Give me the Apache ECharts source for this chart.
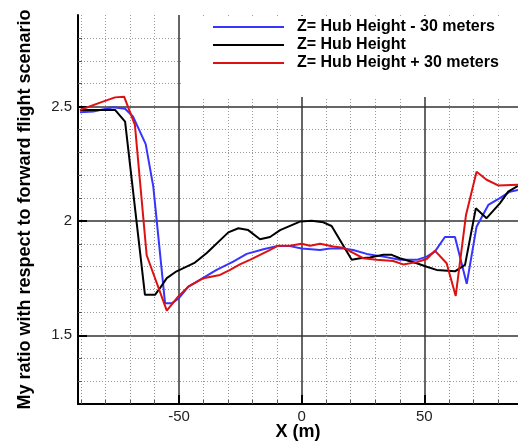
<!DOCTYPE html>
<html>
<head>
<meta charset="utf-8">
<script src="https://cdn.jsdelivr.net/npm/echarts@6/dist/echarts.min.js"></script>
<style>
  html, body { margin: 0; padding: 0; background: #fff; }
  #chart { width: 518px; height: 443px; }
</style>
</head>
<body>
<div id="chart"></div>
<script>
// Z = hub height - 30 m
const xBlue = [-90.4, -85, -76.8, -72, -68.7, -63.6, -60.5, -55.7, -53, -50.3, -46.2, -41.5, -34.7, -27.9, -22.4, -15.6, -10.2, -4.8, 0, 7.5, 11.5, 17, 21, 26.5, 33.3, 40, 46.9, 51, 54.3, 58.4, 62.5, 67.3, 71.3, 76.1, 80.8, 84.9, 88.2];
const yBlue = [2.475, 2.478, 2.497, 2.49, 2.455, 2.336, 2.15, 1.64, 1.64, 1.66, 1.713, 1.742, 1.786, 1.822, 1.856, 1.876, 1.89, 1.89, 1.88, 1.873, 1.88, 1.88, 1.873, 1.856, 1.844, 1.83, 1.83, 1.844, 1.866, 1.93, 1.93, 1.725, 1.975, 2.07, 2.10, 2.128, 2.135];

// Z = hub height
const xBlack = [-90.4, -76.1, -72, -63.9, -59.8, -57.8, -55, -51, -43.5, -38.7, -29.9, -25.8, -21.8, -17, -12.9, -8.8, -0.7, 4.1, 8.8, 12.2, 20.4, 23.8, 27.8, 33.3, 36.7, 40, 46.9, 51, 55, 62.5, 66.6, 71, 75.4, 80.8, 84.2, 88.2];
const yBlack = [2.485, 2.485, 2.434, 1.677, 1.677, 1.706, 1.75, 1.78, 1.818, 1.86, 1.95, 1.968, 1.96, 1.92, 1.93, 1.96, 1.997, 2.001, 1.994, 1.978, 1.83, 1.837, 1.84, 1.852, 1.852, 1.837, 1.815, 1.80, 1.786, 1.78, 1.808, 2.055, 2.012, 2.077, 2.128, 2.153];

// Z = hub height + 30 m
const xRed = [-90.4, -82.2, -76.1, -72.4, -68, -63.2, -55, -50.3, -46.2, -40.1, -33.3, -29.2, -25.2, -21.1, -14.3, -9.5, -4.8, 0, 3.4, 7.5, 12.9, 17, 21, 25.1, 30.6, 37.3, 41.4, 46.9, 51, 54.3, 59.1, 62.8, 67, 71.3, 75.4, 80.1, 88.2];
const yRed = [2.485, 2.517, 2.54, 2.543, 2.42, 1.85, 1.608, 1.67, 1.713, 1.75, 1.764, 1.786, 1.81, 1.83, 1.866, 1.892, 1.892, 1.9, 1.892, 1.9, 1.888, 1.883, 1.86, 1.837, 1.83, 1.825, 1.81, 1.82, 1.834, 1.87, 1.815, 1.672, 2.026, 2.215, 2.18, 2.155, 2.158];

const names = ['Z= Hub Height - 30 meters', 'Z= Hub Height', 'Z= Hub Height + 30 meters'];
const xTicks = [-50, 0, 50];
const yTicks = [1.5, 2, 2.5];

function zip(xs, ys) {
  return xs.map((x, i) => [x, ys[i]]);
}

const font = 'Liberation Sans';

function axisCommon(ticks) {
  return {
    type: 'value',
    splitNumber: 4,
    axisLine: { show: true, onZero: false, lineStyle: { color: '#000', width: 2 } },
    axisTick: { show: true, inside: true, length: 9, customValues: ticks, lineStyle: { color: '#000', width: 2 } },
    minorTick: { show: true, splitNumber: 5, length: 4, lineStyle: { color: '#555', width: 1 } },
    splitLine: { show: true, lineStyle: { color: '#333', width: 1.5 } },
    minorSplitLine: { show: true, lineStyle: { color: '#999', width: 1, type: [1, 2] } },
    axisLabel: { customValues: ticks, color: '#222', fontFamily: font, fontSize: 15 },
    nameLocation: 'middle',
    nameMoveOverlap: false,
    nameTextStyle: { color: '#000', fontFamily: font, fontSize: 18, fontWeight: 'bold' }
  };
}

const xAxis = Object.assign(axisCommon(xTicks), { min: -91.2, max: 88.2, name: 'X (m)', nameGap: 19 });
xAxis.axisLabel.margin = 5;
const yAxis = Object.assign(axisCommon(yTicks), { min: 1.2, max: 2.9, name: 'My ratio with respect to forward flight scenario', nameGap: 44 });
yAxis.axisLabel.margin = 6;

const chart = echarts.init(document.getElementById('chart'));
chart.setOption({
  animation: false,
  backgroundColor: '#fff',
  grid: { left: 78, right: 0, top: 15, bottom: 39, containLabel: false, outerBoundsMode: 'none' },
  legend: {
    orient: 'vertical',
    left: 181,
    top: 16,
    padding: [2, 30, 25, 32],
    backgroundColor: '#fff',
    icon: 'rect',
    itemWidth: 71,
    itemHeight: 2,
    itemGap: 0,
    textStyle: { color: '#000', fontFamily: font, fontSize: 16, fontWeight: 'bold', lineHeight: 18, padding: [0, 0, 0, 8] },
    data: names
  },
  xAxis: xAxis,
  yAxis: yAxis,
  series: [
    { name: names[0], type: 'line', symbol: 'none', data: zip(xBlue, yBlue), lineStyle: { color: '#3535ff', width: 2 }, itemStyle: { color: '#3535ff' } },
    { name: names[1], type: 'line', symbol: 'none', data: zip(xBlack, yBlack), lineStyle: { color: '#000', width: 2 }, itemStyle: { color: '#000' } },
    { name: names[2], type: 'line', symbol: 'none', data: zip(xRed, yRed), lineStyle: { color: '#dd1111', width: 2 }, itemStyle: { color: '#dd1111' } }
  ]
});
</script>
</body>
</html>
